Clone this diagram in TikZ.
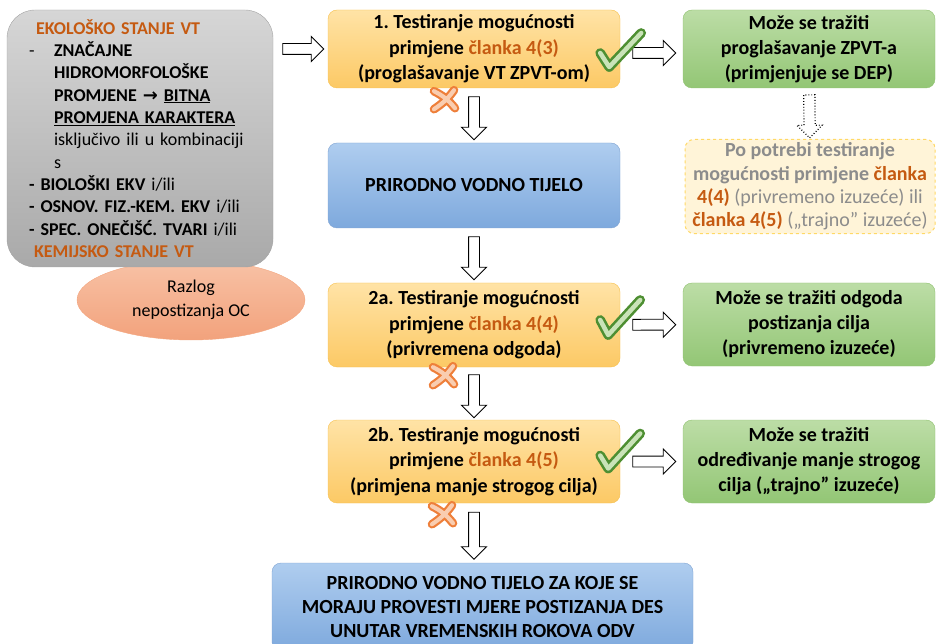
\documentclass[tikz,border=0pt]{standalone}
\usepackage{fontspec}
\setmainfont{Carlito}
\newfontfamily\strelica{DejaVu Sans}
\usetikzlibrary{shapes.geometric,shapes.arrows}
\frenchspacing

\definecolor{clanak}{HTML}{C55A11}
\definecolor{orangetop}{HTML}{FFE3A6}
\definecolor{orangebot}{HTML}{FCC965}
\definecolor{orangeline}{HTML}{F6C04E}
\definecolor{bluetop}{HTML}{AFCDEF}
\definecolor{bluebot}{HTML}{7EA9DD}
\definecolor{blueline}{HTML}{7FA3D2}
\definecolor{greentop}{HTML}{BCDDA6}
\definecolor{greenbot}{HTML}{93C675}
\definecolor{greenline}{HTML}{8FC16F}
\definecolor{graytop}{HTML}{D6D6D6}
\definecolor{graybot}{HTML}{A9A9A9}
\definecolor{grayline}{HTML}{A3A3A3}
\definecolor{salmontop}{HTML}{F8C2A6}
\definecolor{salmonbot}{HTML}{F2A27C}
\definecolor{salmonline}{HTML}{F3A67F}
\definecolor{dashfill}{HTML}{FFF4D8}
\definecolor{dashline}{HTML}{FFD966}
\definecolor{dashtext}{HTML}{8C8C8C}
\definecolor{tickdark}{HTML}{4E8F32}
\definecolor{ticklight}{HTML}{C9E3B8}
\definecolor{crossdark}{HTML}{EE7F3A}
\definecolor{crosslight}{HTML}{F9CDB0}

\tikzstyle{ekobox}=[draw=grayline, top color=graytop, bottom color=graybot, rounded corners=28pt, minimum width=266pt, minimum height=257pt, text width=222pt, inner xsep=22pt, align=left, font=\fontsize{18}{22.3}\selectfont]
\tikzstyle{razlog}=[ellipse, draw=salmonline, top color=salmontop, bottom color=salmonbot, minimum width=228pt, minimum height=80pt, align=center, font=\fontsize{18}{24}\selectfont]
\tikzstyle{testbox}=[draw=orangeline, top color=orangetop, bottom color=orangebot, rounded corners=9pt, minimum width=292pt, align=center, font=\fontsize{20}{25.5}\selectfont\bfseries]
\tikzstyle{bluebox}=[draw=blueline, top color=bluetop, bottom color=bluebot, rounded corners=9pt, align=center, font=\fontsize{20}{24}\selectfont\bfseries]
\tikzstyle{greenbox}=[draw=greenline, top color=greentop, bottom color=greenbot, rounded corners=9pt, minimum width=252pt, align=center, font=\fontsize{20}{25}\selectfont\bfseries]
\tikzstyle{dashbox}=[draw=dashline, dashed, line width=1pt, fill=dashfill, rounded corners=9pt, minimum width=250pt, minimum height=93pt, align=center, text=dashtext, font=\fontsize{20}{23.3}\selectfont\bfseries]
\tikzstyle{hollowarrow}=[single arrow, draw=black, fill=white, line width=0.9pt, minimum height=43pt, single arrow head extend=7pt, inner xsep=0pt, inner ysep=5pt]
\tikzstyle{tick}=[draw=tickdark, double=ticklight, line width=2.6pt, double distance=4.5pt, line cap=round, line join=round]
\tikzstyle{cross}=[draw=crossdark, double=crosslight, line width=2.2pt, double distance=4.2pt, line cap=round, line join=round]

\begin{document}
\begin{tikzpicture}[x=1pt,y=-1pt]
\useasboundingbox (0,0) rectangle (937,644);

% lijevi stupac
\node[razlog] at (191,300) (razlog) {Razlog\\nepostizanja OC};
\node[ekobox] at (140,138.5) (eko) {\hspace*{7pt}\textcolor{clanak}{\textbf{EKOLOŠKO STANJE VT}}\\
\makebox[25pt][l]{-}\textbf{ZNAČAJNE}\\
\hspace*{25pt}\textbf{HIDROMORFOLOŠKE}\\
\hspace*{25pt}\textbf{PROMJENE {\strelica →} \underline{BITNA}}\\
\hspace*{25pt}\textbf{\underline{PROMJENA KARAKTERA}}\\
\hspace*{25pt}isključivo ili u kombinaciji\\
\hspace*{25pt}s\\
\textbf{- BIOLOŠKI EKV} i/ili\\
\textbf{- OSNOV. FIZ.-KEM. EKV} i/ili\\
\textbf{- SPEC. ONEČIŠĆ. TVARI} i/ili\\
\hspace*{5pt}\textcolor{clanak}{\textbf{KEMIJSKO STANJE VT}}};

% srednji stupac
\node[testbox, minimum height=78pt] at (474,49) (t1) {1. Testiranje mogućnosti\\primjene \textcolor{clanak}{članka 4(3)}\\(proglašavanje VT ZPVT-om)};
\node[bluebox, minimum width=292pt, minimum height=85pt] at (474,185.5) (prir) {PRIRODNO VODNO TIJELO};
\node[testbox, minimum height=84pt] at (474,325) (t2a) {2a. Testiranje mogućnosti\\primjene \textcolor{clanak}{članka 4(4)}\\(privremena odgoda)};
\node[testbox, minimum height=83pt] at (474,461.5) (t2b) {2b. Testiranje mogućnosti\\primjene \textcolor{clanak}{članka 4(5)}\\(primjena manje strogog cilja)};
\node[bluebox, minimum width=421pt, minimum height=88pt] at (482.5,607) (mjere) {PRIRODNO VODNO TIJELO ZA KOJE SE\\MORAJU PROVESTI MJERE POSTIZANJA DES\\UNUTAR VREMENSKIH ROKOVA ODV};

% desni stupac
\node[greenbox, minimum height=78pt] at (809,49) (g1) {Može se tražiti\\proglašavanje ZPVT-a\\(primjenjuje se DEP)};
\node[dashbox] at (810,186.5) (potreba) {Po potrebi testiranje\\mogućnosti primjene \textcolor{clanak}{članka}\\\textcolor{clanak}{4(4)} {\mdseries (privremeno izuzeće) ili}\\\textcolor{clanak}{članka 4(5)} {\mdseries („trajno” izuzeće)}};
\node[greenbox, minimum height=83pt] at (809,324.5) (g2) {Može se tražiti odgoda\\postizanja cilja\\(privremeno izuzeće)};
\node[greenbox, minimum height=83pt] at (809,461.5) (g3) {Može se tražiti\\određivanje manje strogog\\cilja („trajno” izuzeće)};

% strelice
\path (t1.west -| eko.east) -- node[hollowarrow, sloped, minimum height=41pt] (s0) {} (t1.west);
\path ([yshift=-4pt]t1.east) -- node[hollowarrow, sloped] (s1) {} ([yshift=-4pt]t1.east -| g1.west);
\path (t1) -- node[hollowarrow, sloped] (s2) {} (prir);
\path (prir) -- node[hollowarrow, sloped] (s3) {} (t2a);
\path (t2a) -- node[hollowarrow, sloped] (s4) {} (t2b);
\path (t2b.south) -- node[hollowarrow, sloped, minimum height=47pt] (s5) {} (t2b.south |- mjere.north);
\path (t2a) -- node[hollowarrow, sloped] (s6) {} (g2);
\path (t2b) -- node[hollowarrow, sloped] (s7) {} (g3);
\path (g1) -- node[hollowarrow, sloped, dotted, line width=1.2pt] (s8) {} (potreba);

% kvacice i krizici
\draw[tick, shift={(t1.east)}] (-20,4) -- (-11,18) -- (21,-16);
\draw[tick, shift={(t2a.east)}] (-20,-5) -- (-12,10) -- (20,-25);
\draw[tick, shift={(t2b.east)}] (-20,-6) -- (-12,7) -- (20,-28);
\draw[cross, shift={(t1.south)}] (-40,3) to[bend left=12] (-19,20) (-20,2) to[bend left=10] (-40,21);
\draw[cross, shift={(t2a.south)}] (-41,0) to[bend left=12] (-20,17) (-21,-1) to[bend left=10] (-41,18);
\draw[cross, shift={(t2b.south)}] (-42,3) to[bend left=12] (-21,20) (-22,2) to[bend left=10] (-42,21);
\end{tikzpicture}
\end{document}
